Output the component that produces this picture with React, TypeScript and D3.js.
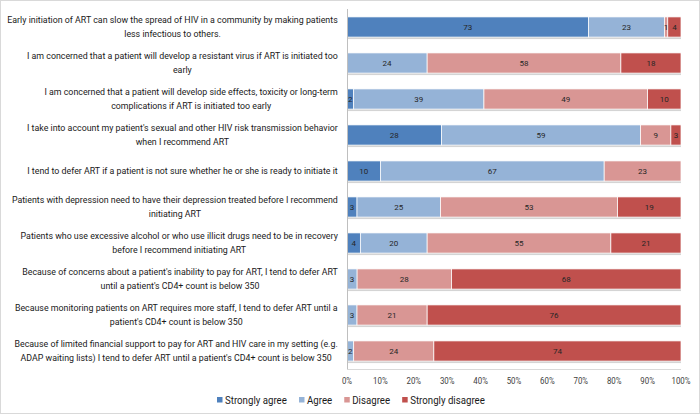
import React, { useMemo } from "react";
import * as d3 from "d3";

const categories: string[][] = [
  ["Early initiation of ART can slow the spread of HIV in a community by making patients", "less infectious to others."],
  ["I am concerned that a patient will develop a resistant virus if ART is initiated too", "early"],
  ["I am concerned that a patient will develop side effects, toxicity or long-term", "complications if ART is initiated too early"],
  ["I take into account my patient's sexual and other HIV risk transmission behavior", "when I recommend ART"],
  ["I tend to defer ART if a patient is not sure whether he or she is ready to initiate it"],
  ["Patients with depression need to have their depression treated before I recommend", "initiating ART"],
  ["Patients who use excessive alcohol or who use illicit drugs need to be in recovery", "before I recommend initiating ART"],
  ["Because of concerns about a patient's inability to pay for ART, I tend to defer ART", "until a patient's CD4+ count is below 350"],
  ["Because monitoring patients on ART requires more staff, I tend to defer ART until a", "patient's CD4+ count is below 350"],
  ["Because of limited financial support to pay for ART and HIV care in my setting (e.g.", "ADAP waiting lists) I tend to defer ART until a patient's CD4+ count is below 350"],
];

const seriesNames = ["Strongly agree", "Agree", "Disagree", "Strongly disagree"];
const stronglyAgree = [73, 0, 2, 28, 10, 3, 4, 0, 0, 0];
const agree = [23, 24, 39, 59, 67, 25, 20, 3, 3, 2];
const disagree = [1, 58, 49, 9, 23, 53, 55, 28, 21, 24];
const stronglyDisagree = [4, 18, 10, 3, 0, 19, 21, 68, 76, 74];
const colors = ["#4F81BD", "#95B3D7", "#D99694", "#C0504D"];
const xTicks = [0, 0.1, 0.2, 0.3, 0.4, 0.5, 0.6, 0.7, 0.8, 0.9, 1];

const W = 700;
const H = 414;
const FONT = "Roboto, 'Open Sans', sans-serif";

function measure(text: string, size: number): number {
  const c = document.createElement("canvas");
  const ctx = c.getContext("2d")!;
  ctx.font = `${size}px ${FONT}`;
  return ctx.measureText(text).width;
}

export default function App() {
  const rows = categories.map((c, i) => ({
    key: String(i),
    sa: stronglyAgree[i],
    a: agree[i],
    d: disagree[i],
    sd: stronglyDisagree[i],
  }));
  const keys = ["sa", "a", "d", "sd"];
  const stacked = d3.stack<any>().keys(keys).offset(d3.stackOffsetExpand)(rows);

  const x = d3.scaleLinear().domain([0, 1]).range([347, 681]);
  const y = d3
    .scaleBand<string>()
    .domain(rows.map((r) => r.key))
    .range([9, 369])
    .paddingInner(0.44)
    .paddingOuter(0.22);

  const labelSize = 9.3;
  const legendSize = 10;
  const tickSize = 8.8;
  const factors = useMemo(() => {
    return {
      label: 331 / measure(categories[0][0], labelSize),
      legend: 62 / measure(seriesNames[0], legendSize),
      tick: 19 / measure("100%", tickSize),
    };
  }, []);

  const legendWidths = seriesNames.map((n) => measure(n, legendSize) * factors.legend);
  const legendStarts: number[] = [];
  {
    let lx = 217;
    seriesNames.forEach((n, i) => {
      legendStarts.push(lx);
      lx += 8 + legendWidths[i] + 12;
    });
  }

  const labelRight = 338;

  return (
    <div style={{ position: "absolute", left: 0, top: 0 }}>
      <svg width={W} height={H} style={{ display: "block" }} fontFamily={FONT}>
        <rect x={0.5} y={0.5} width={W - 1} height={H - 1} fill="#fff" stroke="#d9d9d9" />
        {rows.map((r) => (
          <rect
            key={"sh" + r.key}
            x={x(0)}
            y={(y(r.key) as number) + 2}
            width={x(1) - x(0)}
            height={y.bandwidth()}
            fill="#d4d4d4"
          />
        ))}
        {stacked.map((s, si) => (
          <g key={s.key} fill={colors[si]}>
            {s.map((d, i) => {
              const w = x(d[1]) - x(d[0]);
              if (w <= 0) return null;
              return (
                <rect
                  key={i}
                  x={x(d[0])}
                  y={y(String(i))}
                  width={w}
                  height={y.bandwidth()}
                  stroke="#fff"
                  strokeWidth={0.75}
                />
              );
            })}
          </g>
        ))}
        {stacked.map((s, si) => (
          <g key={"t" + s.key} fontSize={8} fill="#262626" textAnchor="middle">
            {s.map((d, i) => {
              const v = (rows[i] as any)[s.key] as number;
              if (!v) return null;
              return (
                <text
                  key={i}
                  x={(x(d[0]) + x(d[1])) / 2}
                  y={(y(String(i)) as number) + y.bandwidth() / 2 + 3}
                >
                  {v}
                </text>
              );
            })}
          </g>
        ))}
        <line x1={347.5} x2={347.5} y1={9} y2={369} stroke="#bfbfbf" />
        <line x1={347} x2={681} y1={369.5} y2={369.5} stroke="#d9d9d9" />
        <g fontSize={tickSize} fill="#404040" textAnchor="middle">
          {xTicks.map((t) => (
            <text key={t} transform={`translate(${x(t)},384) scale(${factors.tick},1)`}>
              {d3.format(".0%")(t)}
            </text>
          ))}
        </g>
        <g fontSize={labelSize} fill="#1a1a1a" textAnchor="middle">
          {categories.map((lines, i) => {
            const ws = lines.map((l) => measure(l, labelSize) * factors.label);
            const maxW = Math.max(...ws);
            const cx = labelRight - maxW / 2;
            const cy = (y(String(i)) as number) + y.bandwidth() / 2;
            const lh = 14;
            const start = cy - ((lines.length - 1) * lh) / 2 + 3.3;
            return lines.map((l, j) => (
              <text
                key={i + "-" + j}
                transform={`translate(${cx},${start + j * lh}) scale(${factors.label},1)`}
              >
                {l}
              </text>
            ));
          })}
        </g>
        <g fontSize={legendSize} fill="#1a1a1a">
          {seriesNames.map((n, i) => {
            const lx = legendStarts[i];
            return (
              <g key={n}>
                <rect x={lx} y={397} width={5.5} height={5.5} fill={colors[i]} />
                <text transform={`translate(${lx + 8},403.5) scale(${factors.legend},1)`}>{n}</text>
              </g>
            );
          })}
        </g>
      </svg>
    </div>
  );
}
